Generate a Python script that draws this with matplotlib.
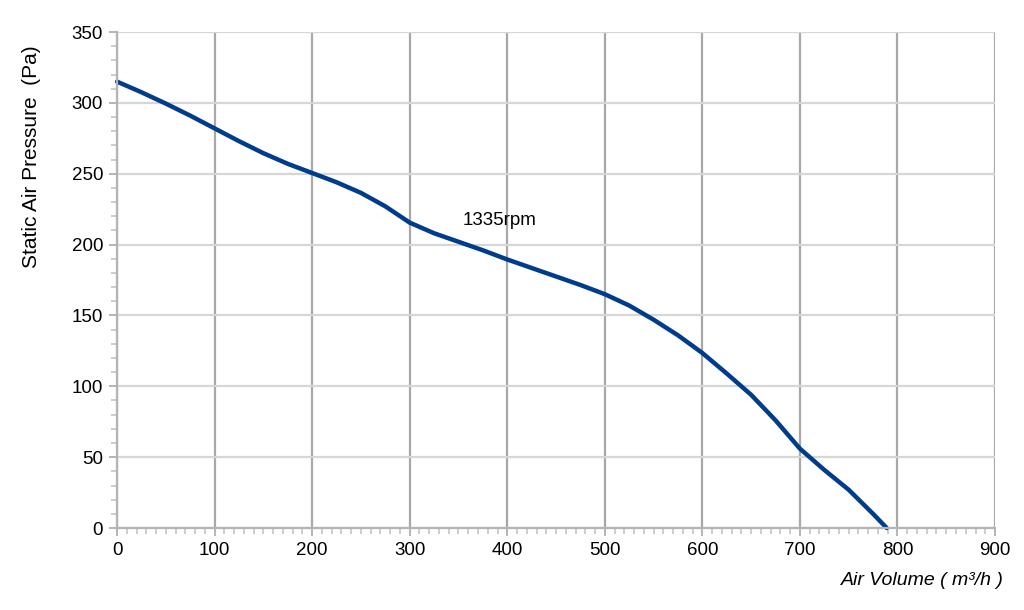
import matplotlib
matplotlib.use('Agg')
import matplotlib.pyplot as plt
from matplotlib.ticker import MultipleLocator

plt.rcParams['font.family'] = ['Liberation Sans', 'DejaVu Sans']

# fan curve
air_volume = [0, 25, 50, 75, 100, 125, 150, 175, 200, 225, 250, 275, 300,
              325, 350, 375, 400, 425, 450, 475, 500, 525, 550, 575, 600,
              625, 650, 675, 700, 725, 750, 775, 789]
pressure = [315, 307.5, 299.5, 291, 282, 273, 264.5, 257, 250.5, 244, 236.5,
            227, 215.5, 208, 202, 196, 189.5, 183.5, 177.5, 171.5, 165, 157,
            147, 136, 123.5, 109, 94, 76, 56, 41, 27, 10, 0]
curve_label = '1335rpm'

fig = plt.figure(figsize=(10.24, 6.1), dpi=100)
ax = fig.add_axes([0.1143, 0.1344, 0.8574, 0.8131])

ax.set_xlim(0, 900)
ax.set_ylim(0, 350)
ax.xaxis.set_major_locator(MultipleLocator(100))
ax.xaxis.set_minor_locator(MultipleLocator(10))
ax.yaxis.set_major_locator(MultipleLocator(50))
ax.yaxis.set_minor_locator(MultipleLocator(10))

ax.grid(axis='x', which='major', color='#a8a8a8', linewidth=1.6)
ax.grid(axis='y', which='major', color='#d6d6d6', linewidth=1.6)
ax.set_axisbelow(True)

for side in ['top', 'right']:
    ax.spines[side].set_visible(False)
for side in ['left', 'bottom']:
    ax.spines[side].set_color('#b4b4b4')
    ax.spines[side].set_linewidth(1.6)

ax.tick_params(which='major', length=6, width=1.4, color='#b4b4b4',
               labelsize=13.5, pad=4)
ax.tick_params(which='minor', length=4, width=1.2, color='#c4c4c4')

ax.plot(air_volume, pressure, color='#003c8c', linewidth=3.2,
        solid_joinstyle='round', solid_capstyle='round', clip_on=False)

ax.text(354, 217, curve_label, fontsize=13.5, va='center', ha='left')

fig.text(0.031, 0.743, 'Static Air Pressure  (Pa)', fontsize=15,
         rotation=90, ha='center', va='center')
fig.text(0.98, 0.049, 'Air Volume ( m³/h )', fontsize=14, style='italic',
         ha='right', va='center')

fig.savefig('out.png', dpi=100)
